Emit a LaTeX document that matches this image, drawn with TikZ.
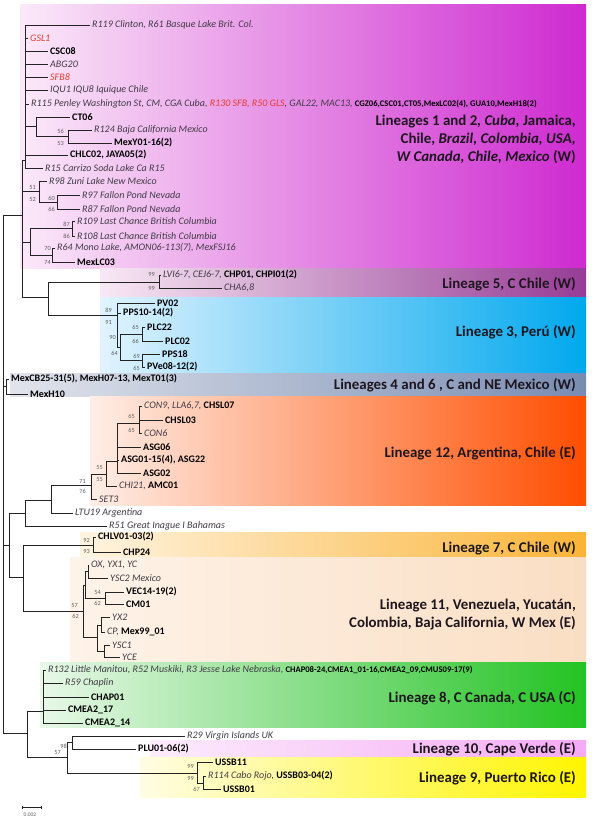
\documentclass[tikz,border=0pt]{standalone}
\usepackage{fontspec}
\setmainfont{Carlito}
\usetikzlibrary{shadings}
\definecolor{treecol}{RGB}{35,35,35}
\definecolor{refc}{RGB}{65,60,70}
\definecolor{redc}{RGB}{232,60,45}
\definecolor{bsc}{RGB}{95,95,95}
\definecolor{linc}{RGB}{30,22,30}
\definecolor{magL}{RGB}{251,233,249}
\definecolor{magR}{RGB}{206,42,208}
\definecolor{l5L}{RGB}{248,232,244}
\definecolor{l5R}{RGB}{150,60,150}
\definecolor{l3L}{RGB}{225,243,255}
\definecolor{l3R}{RGB}{0,168,238}
\definecolor{l46L}{RGB}{225,228,236}
\definecolor{l46R}{RGB}{120,140,178}
\definecolor{l12L}{RGB}{255,238,230}
\definecolor{l12R}{RGB}{255,78,0}
\definecolor{l7L}{RGB}{255,244,225}
\definecolor{l7R}{RGB}{250,180,55}
\definecolor{l11L}{RGB}{254,243,233}
\definecolor{l11R}{RGB}{250,222,195}
\definecolor{l8L}{RGB}{232,248,232}
\definecolor{l8R}{RGB}{35,195,35}
\definecolor{l10L}{RGB}{252,236,252}
\definecolor{l10R}{RGB}{245,170,245}
\definecolor{l9L}{RGB}{255,253,228}
\definecolor{l9R}{RGB}{255,245,0}
\tikzset{
  br/.style={draw=treecol, line width=0.75pt},
  tip/.style={anchor=west, inner xsep=2pt, inner ysep=0pt, font=\fontsize{10}{11}\selectfont},
  ref/.style={tip, text=refc, font=\fontsize{10}{11}\selectfont\itshape},
  bld/.style={tip, text=black, font=\fontsize{10}{11}\selectfont\bfseries},
  redt/.style={tip, text=redc, font=\fontsize{10}{11}\selectfont\itshape},
  bs/.style={anchor=east, inner sep=0pt, text=bsc, font=\fontsize{6.3}{7}\selectfont},
  lin/.style={anchor=east, inner sep=0pt, align=right, text=linc, font=\fontsize{14.9}{18}\selectfont\bfseries},
  band/.style={draw=none}
}
\newcommand{\rf}[1]{{\color{refc}\itshape #1}}
\newcommand{\bd}[1]{{\color{black}\bfseries\upshape #1}}
\begin{document}
\begin{tikzpicture}[x=1pt,y=-1pt]
\useasboundingbox (0,0) rectangle (594,821);
\fill[white] (0,0) rectangle (594,821);
% bands
\fill[band, left color=magL, right color=magR] (20,5) rectangle (586,268);
\fill[band, left color=l5L, right color=l5R] (100,268) rectangle (586,297);
\fill[band, left color=l3L, right color=l3R] (100,297) rectangle (586,373);
\fill[band, left color=l46L, right color=l46R] (10,373) rectangle (586,396);
\fill[band, left color=l12L, right color=l12R] (90,396) rectangle (586,505);
\fill[band, left color=l7L, right color=l7R] (80,532) rectangle (586,557);
\fill[band, left color=l11L, right color=l11R] (70,557) rectangle (586,662);
\fill[band, left color=l8L, right color=l8R] (40,662) rectangle (586,727);
\fill[band, left color=l10L, right color=l10R] (150,740) rectangle (586,757);
\fill[band, left color=l9L, right color=l9R] (140,757) rectangle (586,797);

% lineage labels
\node[lin] (lab12) at (576,139) {Lineages 1 and 2\textit{, Cuba,} Jamaica,\\ Chile, \textit{Brazil, Colombia, USA,}\\ \textit{W Canada, Chile, Mexico} (W)};
\node[lin] (lab5) at (576,284) {Lineage 5, C Chile (W)};
\node[lin] (lab3) at (576,332) {Lineage 3, Perú (W)};
\node[lin] (lab46) at (576,385) {Lineages 4 and 6 , C and NE Mexico (W)};
\node[lin] (labL12) at (576,453) {Lineage 12, Argentina, Chile (E)};
\node[lin] (lab7) at (576,548) {Lineage 7, C Chile (W)};
\node[lin] (lab11) at (576,615) {Lineage 11, Venezuela, Yucatán,\\ Colombia, Baja California, W Mex (E)};
\node[lin] (lab8) at (576,698) {Lineage 8, C Canada, C USA (C)};
\node[lin] (lab10) at (576,749) {Lineage 10, Cape Verde (E)};
\node[lin] (lab9) at (576,778) {Lineage 9, Puerto Rico (E)};

% internal nodes
\coordinate (R) at (3,500);
\coordinate (N2) at (22,215);
\coordinate (N1) at (25,160);
\coordinate (N36) at (36,126);
\coordinate (N68) at (68,136);
\coordinate (N39) at (39,191);
\coordinate (N57) at (57,202);
\coordinate (N30) at (30,242);
\coordinate (N72) at (72,228);
\coordinate (N52) at (52,255);
\coordinate (N48) at (48,297);
\coordinate (N159) at (159,282);
\coordinate (NA) at (117,315);
\coordinate (NB) at (120,347);
\coordinate (N142a) at (142,334);
\coordinate (N142b) at (142,360);
\coordinate (L46) at (6,386);
\coordinate (N9) at (9,545);
\coordinate (N25) at (25,513);
\coordinate (N51) at (51,500);
\coordinate (N91) at (91,485);
\coordinate (N106) at (106,474);
\coordinate (N117) at (117,461);
\coordinate (N139) at (139,423);
\coordinate (N23) at (23,577);
\coordinate (N93) at (93,545);
\coordinate (N83) at (83,611);
\coordinate (N85) at (85,585);
\coordinate (N88) at (88,571);
\coordinate (N105) at (105,598);
\coordinate (N97) at (97,637);
\coordinate (N101) at (101,625);
\coordinate (N104) at (104,651);
\coordinate (N27) at (27,733);
\coordinate (N43) at (43,711);
\coordinate (N67) at (67,757);
\coordinate (N72b) at (72,742);
\coordinate (N197) at (197,773);
\coordinate (N203) at (203,783);

% tips
\node[ref] (R119) at (90,25) {R119 Clinton, R61 Basque Lake Brit. Col.};
\node[redt] (GSL1) at (28,38) {GSL1};
\node[bld] (CSC08) at (48,51) {CSC08};
\node[ref] (ABG20) at (48,64) {ABG20};
\node[redt] (SFB8) at (48,77) {SFB8};
\node[ref] (IQU1) at (48,90) {IQU1 IQU8 Iquique Chile};
\node[ref] (R115) at (29,104) {R115 Penley Washington St, CM, CGA Cuba, {\color{redc}R130 SFB, R50 GLS}, GAL22, MAC13, {\color{black}\upshape\bfseries\fontsize{8.6}{9}\selectfont CGZ06,CSC01,CT05,MexLC02(4), GUA10,MexH18(2)}};
\node[bld] (CT06) at (70,117) {CT06};
\node[ref] (R124) at (92,130) {R124 Baja California Mexico};
\node[bld] (MexY01) at (112,143) {MexY01-16(2)};
\node[bld] (CHLC02) at (68,155) {CHLC02, JAYA05(2)};
\node[ref] (R15) at (43,168) {R15 Carrizo Soda Lake Ca R15};
\node[ref] (R98) at (47,181) {R98 Zuni Lake New Mexico};
\node[ref] (R97) at (80,195) {R97 Fallon Pond Nevada};
\node[ref] (R87) at (80,209) {R87 Fallon Pond Nevada};
\node[ref] (R109) at (75,221) {R109 Last Chance British Columbia};
\node[ref] (R108) at (75,236) {R108 Last Chance British Columbia};
\node[ref] (R64) at (55,248) {R64 Mono Lake, AMON06-113(7), MexFSJ16};
\node[bld] (MexLC03) at (75,262) {MexLC03};
\node[tip] (LVI) at (161,275) {\rf{LVI6-7, CEJ6-7,} \bd{CHP01, CHPI01(2)}};
\node[ref] (CHA) at (222,288) {CHA6,8};
\node[bld] (PV02) at (155,303) {PV02};
\node[bld] (PPS10) at (121,313) {PPS10-14(2)};
\node[bld] (PLC22) at (145,327) {PLC22};
\node[bld] (PLC02) at (163,341) {PLC02};
\node[bld] (PPS18) at (160,354) {PPS18};
\node[bld] (PVe08) at (145,367) {PVe08-12(2)};
\node[bld] (MexCB25) at (9,379) {MexCB25-31(5), MexH07-13, MexT01(3)};
\node[bld] (MexH10) at (28,394) {MexH10};
\node[tip] (CON9) at (142,406) {\rf{CON9, LLA6,7,} \bd{CHSL07}};
\node[bld] (CHSL03) at (163,420) {CHSL03};
\node[ref] (CON6) at (142,433) {CON6};
\node[bld] (ASG06) at (141,447) {ASG06};
\node[bld] (ASG01) at (119,460) {ASG01-15(4), ASG22};
\node[bld] (ASG02) at (141,473) {ASG02};
\node[tip] (CHI21) at (117,486) {\rf{CHI21,} \bd{AMC01}};
\node[ref] (SET3) at (97,499) {SET3};
\node[ref] (LTU19) at (73,513) {LTU19 Argentina};
\node[ref] (R51) at (107,526) {R51 Great Inague I Bahamas};
\node[bld] (CHLV01) at (96,537) {CHLV01-03(2)};
\node[bld] (CHP24) at (121,552) {CHP24};
\node[ref] (OX) at (89,565) {OX, YX1, YC};
\node[ref] (YSC2) at (108,578) {YSC2 Mexico};
\node[bld] (VEC14) at (124,592) {VEC14-19(2)};
\node[bld] (CM01) at (124,604) {CM01};
\node[ref] (YX2) at (110,617) {YX2};
\node[tip] (CP) at (105,632) {\rf{CP,} \bd{Mex99\_01}};
\node[ref] (YSC1) at (110,645) {YSC1};
\node[ref] (YCE) at (120,657) {YCE};
\node[tip] (R132) at (46,670) {\rf{R132 Little Manitou, R52 Muskiki, R3 Jesse Lake Nebraska,} {\color{black}\bfseries\fontsize{8.6}{9}\selectfont CHAP08-24,CMEA1\_01-16,CMEA2\_09,CMUS09-17(9)}};
\node[ref] (R59) at (63,683) {R59 Chaplin};
\node[bld] (CHAP01) at (89,697) {CHAP01};
\node[bld] (CMEA217) at (66,710) {CMEA2\_17};
\node[bld] (CMEA214) at (83,723) {CMEA2\_14};
\node[ref] (R29) at (185,736) {R29 Virgin Islands UK};
\node[bld] (PLU01) at (136,749) {PLU01-06(2)};
\node[bld] (USSB11) at (213,762) {USSB11};
\node[tip] (R114) at (206,776) {\rf{R114 Cabo Rojo,} \bd{USSB03-04(2)}};
\node[bld] (USSB01) at (221,789) {USSB01};

% branches
\foreach \c in {N2,L46,N9,N27} \draw[br] (R) |- (\c);
\foreach \c in {N1,N39,N30,N48} \draw[br] (N2) |- (\c);
\foreach \c in {R119,GSL1,CSC08,ABG20,SFB8,IQU1,R115,N36,CHLC02,R15} \draw[br] (N1) |- (\c);
\foreach \c in {CT06,N68} \draw[br] (N36) |- (\c);
\foreach \c in {R124,MexY01} \draw[br] (N68) |- (\c);
\foreach \c in {R98,N57} \draw[br] (N39) |- (\c);
\foreach \c in {R97,R87} \draw[br] (N57) |- (\c);
\foreach \c in {N72,N52} \draw[br] (N30) |- (\c);
\foreach \c in {R109,R108} \draw[br] (N72) |- (\c);
\foreach \c in {R64,MexLC03} \draw[br] (N52) |- (\c);
\foreach \c in {N159,NA} \draw[br] (N48) |- (\c);
\foreach \c in {LVI,CHA} \draw[br] (N159) |- (\c);
\foreach \c in {PV02,PPS10,NB} \draw[br] (NA) |- (\c);
\foreach \c in {N142a,N142b} \draw[br] (NB) |- (\c);
\foreach \c in {PLC22,PLC02} \draw[br] (N142a) |- (\c);
\foreach \c in {PPS18,PVe08} \draw[br] (N142b) |- (\c);
\foreach \c in {MexCB25,MexH10} \draw[br] (L46) |- (\c);
\foreach \c in {N25,N23} \draw[br] (N9) |- (\c);
\foreach \c in {N51,R51} \draw[br] (N25) |- (\c);
\foreach \c in {N91,LTU19} \draw[br] (N51) |- (\c);
\foreach \c in {N106,SET3} \draw[br] (N91) |- (\c);
\foreach \c in {N117,CHI21} \draw[br] (N106) |- (\c);
\foreach \c in {N139,ASG06,ASG01,ASG02} \draw[br] (N117) |- (\c);
\foreach \c in {CON9,CHSL03,CON6} \draw[br] (N139) |- (\c);
\foreach \c in {N93,N83} \draw[br] (N23) |- (\c);
\foreach \c in {CHLV01,CHP24} \draw[br] (N93) |- (\c);
\foreach \c in {N85,N97} \draw[br] (N83) |- (\c);
\foreach \c in {N88,N105} \draw[br] (N85) |- (\c);
\foreach \c in {OX,YSC2} \draw[br] (N88) |- (\c);
\foreach \c in {VEC14,CM01} \draw[br] (N105) |- (\c);
\foreach \c in {N101,N104} \draw[br] (N97) |- (\c);
\foreach \c in {YX2,CP} \draw[br] (N101) |- (\c);
\foreach \c in {YSC1,YCE} \draw[br] (N104) |- (\c);
\foreach \c in {N43,N67} \draw[br] (N27) |- (\c);
\foreach \c in {R132,R59,CHAP01,CMEA217,CMEA214} \draw[br] (N43) |- (\c);
\foreach \c in {N72b,N197} \draw[br] (N67) |- (\c);
\foreach \c in {R29,PLU01} \draw[br] (N72b) |- (\c);
\foreach \c in {USSB11,N203} \draw[br] (N197) |- (\c);
\foreach \c in {R114,USSB01} \draw[br] (N203) |- (\c);

% bootstrap values
\node[bs] (b1) at (64,131) {56};
\node[bs] (b2) at (64,143) {53};
\node[bs] (b3) at (36,187) {51};
\node[bs] (b4) at (36,199) {52};
\node[bs] (b5) at (55,198) {60};
\node[bs] (b6) at (55,209) {66};
\node[bs] (b7) at (70,224) {87};
\node[bs] (b8) at (70,236) {86};
\node[bs] (b9) at (51,248) {70};
\node[bs] (b10) at (51,262) {74};
\node[bs] (b11) at (155,274) {99};
\node[bs] (b12) at (155,288) {99};
\node[bs] (b13) at (112,310) {89};
\node[bs] (b14) at (112,322) {91};
\node[bs] (b15) at (116,337) {90};
\node[bs] (b16) at (118,353) {64};
\node[bs] (b17) at (139,327) {65};
\node[bs] (b18) at (139,341) {66};
\node[bs] (b19) at (140,356) {69};
\node[bs] (b20) at (140,368) {65};
\node[bs] (b21) at (135,416) {65};
\node[bs] (b22) at (135,430) {65};
\node[bs] (b23) at (103,467) {55};
\node[bs] (b24) at (103,479) {55};
\node[bs] (b25) at (86,481) {71};
\node[bs] (b26) at (86,491) {76};
\node[bs] (b27) at (90,540) {92};
\node[bs] (b28) at (90,551) {93};
\node[bs] (b29) at (78,605) {57};
\node[bs] (b30) at (79,616) {62};
\node[bs] (b31) at (101,592) {54};
\node[bs] (b32) at (101,603) {62};
\node[bs] (b33) at (61,752) {57};
\node[bs] (b34) at (67,746) {98};
\node[bs] (b35) at (194,766) {99};
\node[bs] (b36) at (194,778) {99};
\node[bs] (b37) at (200,789) {67};

% scale bar
\coordinate (sb1) at (22,807);
\coordinate (sb2) at (41,807);
\draw[treecol, line width=0.6pt] (sb1) -- (sb2);
\draw[treecol, line width=0.6pt] ([yshift=-1.5pt]sb1) -- ([yshift=1.5pt]sb1);
\draw[treecol, line width=0.6pt] ([yshift=-1.5pt]sb2) -- ([yshift=1.5pt]sb2);
\node[inner sep=0pt, text=bsc, font=\fontsize{5.5}{6}\selectfont] (sbl) at (30,815) {0.002};
\end{tikzpicture}
\end{document}
